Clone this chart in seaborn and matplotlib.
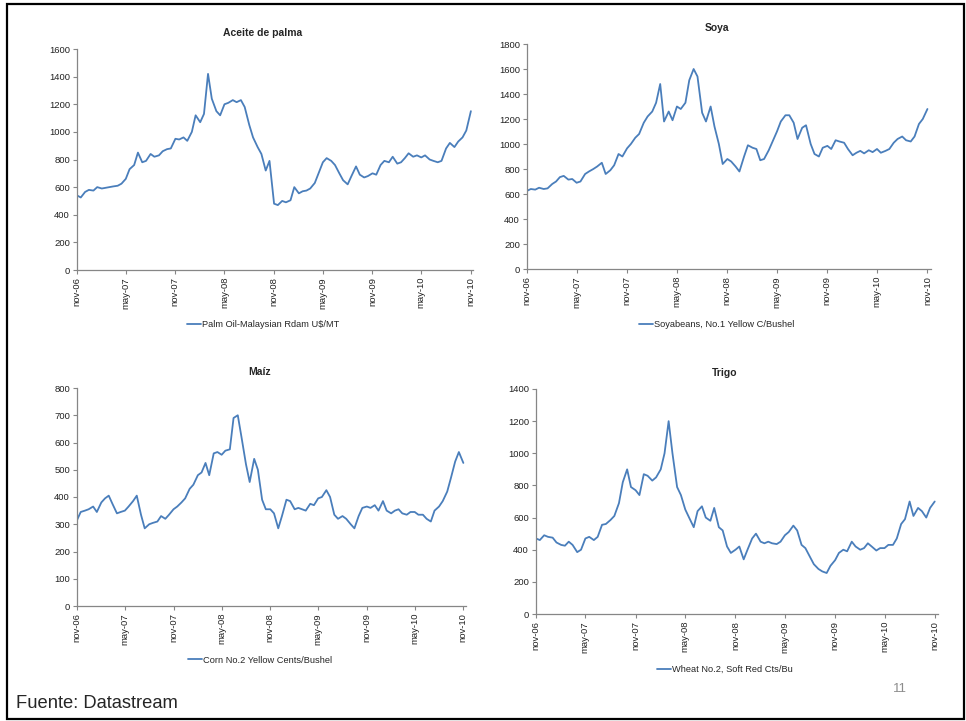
import pandas as pd
import matplotlib.pyplot as plt
import seaborn as sns
from matplotlib.patches import Rectangle

# valores (1 y 15 de cada mes, nov-06 .. nov-10)
palm_oil = [540, 525, 565, 580,
            575, 600, 590, 595, 600, 605, 610, 625, 660, 730, 760, 850, 780, 790, 840, 820, 830, 860, 875, 880, 950, 945, 960, 935,
            1000, 1120, 1070, 1130, 1420, 1240, 1150, 1120, 1200, 1210, 1230, 1215, 1230, 1180, 1050, 960, 890, 840, 720, 790, 480, 470, 500, 490,
            505, 600, 555, 570, 575, 590, 630, 700, 780, 810, 790, 760, 700, 650, 620, 680, 750, 690, 670, 680, 700, 690, 760, 790,
            780, 820, 770, 780, 810, 845, 820, 830, 815, 830, 800, 790, 780, 790, 880, 920, 890, 930, 960, 1010, 1150]

soybeans = [625, 640, 635, 650,
            640, 645, 680, 700, 735, 745, 715, 720, 690, 700, 760, 780, 800, 820, 850, 760, 790, 830, 920, 900, 965, 1000, 1050, 1080,
            1170, 1220, 1260, 1330, 1480, 1180, 1260, 1190, 1300, 1280, 1330, 1510, 1600, 1540, 1250, 1180, 1300, 1140, 1000, 840, 880, 860, 820, 780,
            900, 990, 970, 960, 870, 880, 950, 1020, 1100, 1180, 1230, 1230, 1170, 1040, 1130, 1150, 1000, 920, 900, 970, 985, 960, 1030, 1020,
            1010, 960, 910, 930, 945, 925, 950, 935, 960, 930, 945, 960, 1010, 1040, 1060, 1030, 1020, 1060, 1160, 1200, 1280]

corn = [315, 345, 350, 355,
        365, 345, 380, 395, 405, 375, 340, 345, 350, 365, 385, 405, 335, 285, 300, 305, 310, 330, 320, 335, 355, 365, 380, 395,
        430, 445, 480, 490, 525, 480, 560, 565, 555, 570, 575, 690, 700, 620, 520, 455, 540, 500, 390, 355, 355, 340, 285, 330,
        390, 385, 355, 360, 355, 350, 375, 370, 395, 400, 425, 400, 335, 320, 330, 320, 300, 285, 330, 360, 365, 360, 370, 350,
        385, 350, 340, 350, 355, 340, 335, 345, 345, 335, 335, 320, 310, 350, 365, 385, 420, 470, 530, 565, 525]

wheat = [470, 460, 490, 480,
         475, 445, 430, 425, 450, 430, 385, 400, 470, 480, 460, 480, 555, 560, 585, 610, 690, 820, 900, 790, 770, 740, 870, 860,
         830, 850, 900, 1000, 1200, 1000, 790, 740, 650, 600, 540, 640, 670, 600, 580, 660, 540, 520, 420, 380, 400, 420, 340, 400,
         470, 500, 450, 440, 450, 440, 435, 450, 490, 510, 550, 520, 430, 410, 355, 310, 280, 265, 255, 300, 335, 380, 400, 390,
         450, 420, 400, 410, 440, 420, 395, 410, 410, 430, 430, 470, 560, 590, 700, 610, 660, 640, 600, 660, 700]

tick_dates = ['2006-11-01', '2007-05-01', '2007-11-01', '2008-05-01', '2008-11-01',
              '2009-05-01', '2009-11-01', '2010-05-01', '2010-11-01']
tick_labels = ['nov-06', 'may-07', 'nov-07', 'may-08', 'nov-08',
               'may-09', 'nov-09', 'may-10', 'nov-10']

titles = ['Aceite de palma', 'Soya', 'Maíz', 'Trigo']
legend_labels = ['Palm Oil-Malaysian Rdam U$/MT', 'Soyabeans, No.1 Yellow C/Bushel',
                 'Corn No.2 Yellow Cents/Bushel', 'Wheat No.2, Soft Red Cts/Bu']

W, H = 966, 721
blue = '#4A7EBB'
grey = '#868686'

sns.set_style('white')
plt.rcParams['font.family'] = ['Liberation Sans', 'DejaVu Sans']

fig = plt.figure(figsize=(W / 100, H / 100), dpi=100)

# (left, right, top, bottom) en pixeles, ymax, paso, fin eje x
panels = [
    (palm_oil, (77, 472.5, 49, 270), 1600, 200, '2010-11-07'),
    (soybeans, (527, 931, 44, 269), 1800, 200, '2010-11-14'),
    (corn, (77, 466, 388, 606), 800, 100, '2010-11-11'),
    (wheat, (536, 938, 389, 614), 1400, 200, '2010-11-13'),
]

for i, (vals, box, ymax, step, xend) in enumerate(panels):
    l, r, t, b = box
    ax = fig.add_axes([l / W, 1 - b / H, (r - l) / W, (b - t) / H])
    df = pd.DataFrame({'fecha': pd.date_range('2006-11-01', periods=len(vals), freq='SMS'),
                       'valor': vals})
    sns.lineplot(data=df, x='fecha', y='valor', ax=ax, color=blue, lw=1.3,
                 label=legend_labels[i])
    ax.set_xlim(pd.Timestamp('2006-11-01'), pd.Timestamp(xend))
    ax.set_ylim(0, ymax)
    ax.set_yticks(range(0, ymax + 1, step))
    ax.set_xticks(pd.to_datetime(tick_dates))
    ax.set_xticklabels(tick_labels, rotation=90)
    ax.set_xlabel('')
    ax.set_ylabel('')
    for s in ['top', 'right']:
        ax.spines[s].set_visible(False)
    for s in ['left', 'bottom']:
        ax.spines[s].set_color(grey)
        ax.spines[s].set_linewidth(0.9)
    ax.tick_params(left=True, bottom=True, length=3, width=0.8, color=grey,
                   labelsize=6.8, labelcolor='#222222', pad=2)
    hpx = b - t
    ax.text(0.47, 1 + 16 / hpx, titles[i], transform=ax.transAxes, ha='center',
            va='center', fontsize=7.5, fontweight='bold')
    ax.legend(loc='center', bbox_to_anchor=(0.47, -0.248), frameon=False,
              fontsize=6.7, handlelength=1.5, handletextpad=0.1, borderpad=0)

fig.text(16 / W, 1 - 703 / H, 'Fuente: Datastream', fontsize=13.2, va='center')
fig.text(900 / W, 1 - 689 / H, '11', fontsize=9.5, color='#8c8c8c', ha='center', va='center')

fig.patches.append(Rectangle((7 / W, 1 - 719 / H), 957 / W, 715.3 / H,
                             transform=fig.transFigure, fill=False, ec='black', lw=1.6))

fig.savefig('out.png', dpi=100)
